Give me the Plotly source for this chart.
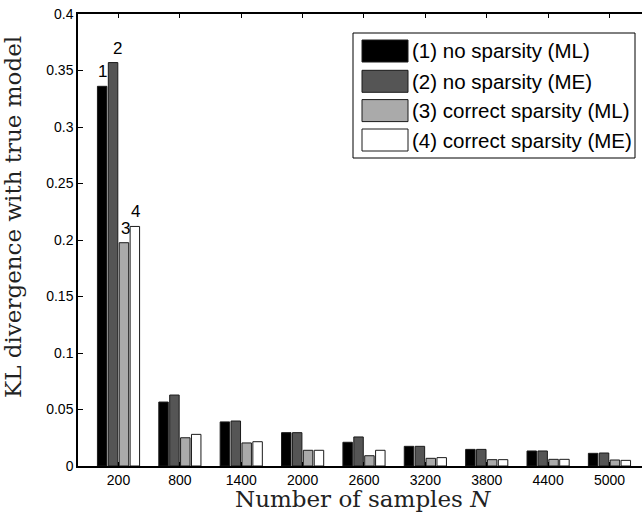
import plotly.graph_objects as go

categories = ["200", "800", "1400", "2000", "2600", "3200", "3800", "4400", "5000"]
series_names = ["(1) no sparsity (ML)", "(2) no sparsity (ME)",
                "(3) correct sparsity (ML)", "(4) correct sparsity (ME)"]
short_labels = ["1", "2", "3", "4"]
colors = ["#000000", "#555555", "#aaaaaa", "#ffffff"]

no_sparsity_ml = [0.336, 0.0566, 0.0390, 0.0295, 0.0210, 0.0174, 0.0147, 0.0133, 0.0112]
no_sparsity_me = [0.357, 0.0628, 0.0398, 0.0295, 0.0257, 0.0174, 0.0147, 0.0133, 0.0115]
correct_sparsity_ml = [0.1976, 0.0250, 0.0204, 0.0139, 0.0091, 0.0068, 0.0056, 0.0059, 0.0053]
correct_sparsity_me = [0.212, 0.0280, 0.0215, 0.0139, 0.0139, 0.0074, 0.0056, 0.0059, 0.0050]
series_values = [no_sparsity_ml, no_sparsity_me, correct_sparsity_ml, correct_sparsity_me]

y_ticks = [0, 0.05, 0.1, 0.15, 0.2, 0.25, 0.3, 0.35, 0.4]
y_tick_labels = ["0", "0.05", "0.1", "0.15", "0.2", "0.25", "0.3", "0.35", "0.4"]
x_title = "Number of samples <i>N</i>"
y_title = "KL divergence with true model"

W, H = 642, 517
ML, MR, MT, MB = 78, 0, 14, 51
BARGAP = 0.29
xpos = list(range(len(categories)))

fig = go.Figure()
for name, vals, col in zip(series_names, series_values, colors):
    fig.add_trace(go.Bar(
        x=xpos, y=vals, name=name,
        marker=dict(color=col, line=dict(color="#1a1a1a", width=1)),
        showlegend=False,
    ))

# number labels above first group
slot = (1 - BARGAP) / 4
xshifts = [0, 4, 2, 1]
for i, (lab, vals) in enumerate(zip(short_labels, series_values)):
    fig.add_annotation(
        x=xpos[0] + (i - 1.5) * slot, y=vals[0], text=lab, showarrow=False,
        xref="x", yref="y", yanchor="bottom", yshift=3, xshift=xshifts[i],
        font=dict(family="Liberation Sans, Arial", size=17, color="black"),
    )

# helpers: pixel -> paper coords relative to plot area
pw = W - ML - MR
ph = H - MT - MB
def px(x):
    return (x - ML) / pw
def py(y):
    return (H - MB - y) / ph

# manual legend
fig.add_shape(type="rect", xref="paper", yref="paper",
              x0=px(353), x1=px(635), y0=py(158), y1=py(33),
              line=dict(color="black", width=1), fillcolor="white", layer="above")
row_y = [51, 81.3, 110.6, 140]
for i, (name, col) in enumerate(zip(series_names, colors)):
    yc = row_y[i]
    fig.add_shape(type="rect", xref="paper", yref="paper",
                  x0=px(362), x1=px(408), y0=py(yc + 11), y1=py(yc - 11),
                  line=dict(color="#1a1a1a", width=1), fillcolor=col, layer="above")
    fig.add_annotation(x=px(410), y=py(yc), xref="paper", yref="paper",
                       text=name, showarrow=False, xanchor="left", yanchor="middle",
                       font=dict(family="Liberation Sans, Arial", size=20.5, color="black"))

# axis titles
fig.add_annotation(x=px(362.5), y=py(499), xref="paper", yref="paper",
                   text=x_title, showarrow=False, xanchor="center", yanchor="middle",
                   font=dict(family="DejaVu Serif", size=23, color="#222"))
fig.add_annotation(x=px(13), y=py(217), xref="paper", yref="paper",
                   text=y_title, showarrow=False, xanchor="center", yanchor="middle",
                   textangle=-90,
                   font=dict(family="DejaVu Serif", size=23, color="#222"))

fig.update_layout(
    width=W, height=H,
    margin=dict(l=ML, r=MR, t=MT, b=MB),
    paper_bgcolor="white", plot_bgcolor="white",
    barmode="group", bargap=BARGAP, bargroupgap=0.13,
    font=dict(family="Liberation Sans, Arial", size=14, color="black"),
)
fig.update_xaxes(
    range=[-0.66, 8.53], tickvals=xpos, ticktext=categories,
    showline=True, linecolor="black", linewidth=1.5, mirror="ticks",
    ticks="inside", ticklen=4, tickcolor="black", showgrid=False, zeroline=False,
    tickfont=dict(size=14, family="Liberation Sans, Arial"),
)
fig.update_yaxes(
    range=[0, 0.4], tickvals=y_ticks, ticktext=y_tick_labels,
    showline=True, linecolor="black", linewidth=1.5,
    ticks="inside", ticklen=5, tickcolor="black", showgrid=False, zeroline=False,
    tickfont=dict(size=14, family="Liberation Sans, Arial"),
)

fig.write_html("out.html")
